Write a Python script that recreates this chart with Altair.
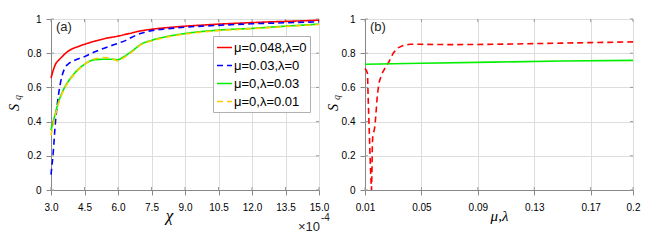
import altair as alt
import pandas as pd

# ---------------- Panel (a) data (chi in units of 1e-4) ----------------
series_names = ["μ=0.048,λ=0", "μ=0.03,λ=0", "μ=0,λ=0.03", "μ=0,λ=0.01"]
series_colors = ["#ff0000", "#0000ff", "#00ee00", "#ffcc00"]
series_dash = [[1, 0], [6, 4], [1, 0], [6, 4]]

red_x = [3.0, 3.1, 3.2, 3.35, 3.5, 3.7, 3.9, 4.2, 4.5, 5.0, 5.5, 6.0, 6.5, 7.0, 7.5, 8.0,
         9.0, 10.0, 10.5, 11.0, 12.0, 13.0, 13.5, 14.0, 15.0]
red_y = [0.655, 0.70, 0.735, 0.76, 0.78, 0.805, 0.822, 0.838, 0.852, 0.872, 0.888, 0.900,
         0.915, 0.930, 0.940, 0.947, 0.958, 0.966, 0.970, 0.973, 0.979, 0.984, 0.986, 0.988, 0.993]

blue_x = [3.0, 3.1, 3.2, 3.3, 3.4, 3.5, 3.65, 3.8, 4.0, 4.5, 5.0, 5.5, 6.0, 6.3, 6.6, 7.0,
          7.5, 8.0, 9.0, 10.5, 12.0, 13.5, 15.0]
blue_y = [0.09, 0.22, 0.40, 0.52, 0.61, 0.67, 0.72, 0.74, 0.755, 0.78, 0.81, 0.835, 0.858,
          0.872, 0.892, 0.915, 0.932, 0.94, 0.952, 0.963, 0.972, 0.978, 0.983]

green_x = [3.0, 3.1, 3.2, 3.3, 3.5, 3.8, 4.1, 4.5, 4.8, 5.0, 5.5, 5.8, 6.0, 6.2, 6.5, 6.8,
           7.0, 7.5, 8.0, 9.0, 10.5, 12.0, 13.5, 15.0]
green_y = [0.35, 0.40, 0.45, 0.50, 0.57, 0.64, 0.69, 0.735, 0.757, 0.762, 0.765, 0.764,
           0.762, 0.775, 0.80, 0.83, 0.85, 0.875, 0.892, 0.915, 0.935, 0.945, 0.958, 0.97]

yellow_x = [3.0, 3.1, 3.2, 3.3, 3.5, 3.8, 4.1, 4.5, 4.8, 5.0, 5.3, 5.6, 5.8, 6.0, 6.2, 6.5,
            6.8, 7.0, 7.5, 8.0, 9.0, 10.5, 12.0, 13.5, 15.0]
yellow_y = [0.32, 0.38, 0.44, 0.49, 0.565, 0.635, 0.685, 0.735, 0.76, 0.768, 0.775, 0.772,
            0.765, 0.755, 0.768, 0.795, 0.826, 0.847, 0.872, 0.889, 0.912, 0.932, 0.943,
            0.956, 0.968]

# ---------------- Panel (b) data ----------------
b_red_x = [0.0100, 0.0110, 0.0118, 0.0122, 0.0128, 0.0134, 0.0138, 0.0143, 0.0146, 0.0149,
           0.0152, 0.0155, 0.0163, 0.0170, 0.0178, 0.0188, 0.0200, 0.0220, 0.0240, 0.0270,
           0.0300, 0.0330, 0.0370, 0.0420, 0.0500, 0.0700, 0.0900, 0.1100, 0.1300, 0.1500,
           0.1700, 0.2000]
b_red_y = [0.71, 0.70, 0.68, 0.55, 0.40, 0.25, 0.15, 0.05, 0.0, 0.10, 0.26, 0.32, 0.34,
           0.37, 0.45, 0.56, 0.63, 0.68, 0.71, 0.75, 0.80, 0.83, 0.845, 0.852, 0.852, 0.850,
           0.851, 0.853, 0.856, 0.859, 0.862, 0.866]
b_green_x = [0.01, 0.05, 0.10, 0.15, 0.20]
b_green_y = [0.735, 0.741, 0.748, 0.754, 0.758]

a_xticks = [3.0, 4.5, 6.0, 7.5, 9.0, 10.5, 12.0, 13.5, 15.0]
b_xticks = [0.01, 0.05, 0.09, 0.13, 0.17, 0.2]
yticks = [0, 0.2, 0.4, 0.6, 0.8, 1.0]

W, H = 268, 171
FRAME = "#999999"
LABEL_FONT = "Liberation Sans"
SERIF = "Liberation Serif"

rows = []
for name, xs, ys in zip(series_names, [red_x, blue_x, green_x, yellow_x],
                        [red_y, blue_y, green_y, yellow_y]):
    for i, (xv, yv) in enumerate(zip(xs, ys)):
        rows.append({"x": xv, "y": yv, "series": name, "i": i})
df_a = pd.DataFrame(rows)


def y_axis(tx, ty):
    return alt.Axis(values=yticks, format="~g", labelPadding=5, labelFlush=False,
                    labelOverlap=False, title="S",
                    titleFont=SERIF, titleFontStyle="italic", titleFontWeight="normal",
                    titleFontSize=14, titleAngle=270, titleAlign="center",
                    titleBaseline="middle", titleX=tx, titleY=ty)


y_a = alt.Y("y:Q", scale=alt.Scale(domain=[0, 1], nice=False, zero=False), axis=y_axis(-37, 88))
x_a = alt.X("x:Q", scale=alt.Scale(domain=[3, 15], nice=False, zero=False),
            axis=alt.Axis(values=a_xticks, format=".1f", labelPadding=7, labelFlush=False,
                          labelOverlap=False, title="χ",
                          titleFont=SERIF, titleFontStyle="italic", titleFontWeight="normal",
                          titleFontSize=17, titleX=118, titleY=30, titleAlign="center",
                          titleBaseline="alphabetic"))

legend = alt.Legend(orient="none", legendX=162, legendY=17, title=None,
                    symbolType="stroke", symbolSize=225, symbolStrokeWidth=1.6,
                    labelFont=LABEL_FONT, labelFontSize=13, labelColor="#000000",
                    strokeColor="#b0b0b0", fillColor="white", padding=3,
                    rowPadding=2, labelOffset=1, labelLimit=200)

color_a = alt.Color("series:N", scale=alt.Scale(domain=series_names, range=series_colors),
                    legend=legend)
dash_a = alt.StrokeDash("series:N", scale=alt.Scale(domain=series_names, range=series_dash),
                        legend=legend)

base_a = alt.Chart(df_a)
line_layers = [
    base_a.transform_filter(alt.datum.series == name)
    .mark_line(strokeWidth=1.6, interpolate="monotone")
    .encode(x=x_a, y=y_a, color=color_a, strokeDash=dash_a, order="i:Q")
    for name in series_names
]

tx_a = pd.DataFrame({"x": a_xticks})
ty = pd.DataFrame({"y": yticks})
tick_bottom_a = alt.Chart(tx_a).mark_rule(color=FRAME).encode(x=x_a, y=alt.value(H), y2=alt.value(H - 3))
tick_top_a = alt.Chart(tx_a).mark_rule(color=FRAME).encode(x=x_a, y=alt.value(0), y2=alt.value(3))
tick_left_a = alt.Chart(ty).mark_rule(color=FRAME).encode(y=y_a, x=alt.value(0), x2=alt.value(3))
tick_right_a = alt.Chart(ty).mark_rule(color=FRAME).encode(y=y_a, x=alt.value(W), x2=alt.value(W - 3))


def text_layer(txt, x, y, size, font=LABEL_FONT, style="normal", angle=0,
               align="left", baseline="middle"):
    return alt.Chart(pd.DataFrame({"t": [txt]})).mark_text(
        font=font, fontSize=size, fontStyle=style, angle=angle, align=align,
        baseline=baseline, color="#262626"
    ).encode(x=alt.value(x), y=alt.value(y), text="t:N")


q_a = text_layer("q", -33.5, 78.5, 10, font=SERIF, style="italic", angle=270, align="center")
lab_a = text_layer("(a)", 5, 8, 13)
exp1 = text_layer("×10", 247, 212, 13, baseline="alphabetic")
exp2 = text_layer("-4", 270, 202, 10, baseline="alphabetic")

panel_a = alt.layer(tick_bottom_a, tick_top_a, tick_left_a, tick_right_a, *line_layers,
                    q_a, lab_a, exp1, exp2).properties(width=W, height=H)

# ---------------- Panel (b) ----------------
df_b_red = pd.DataFrame({"x": b_red_x, "y": b_red_y, "i": list(range(len(b_red_x)))})
df_b_green = pd.DataFrame({"x": b_green_x, "y": b_green_y})

y_b = alt.Y("y:Q", scale=alt.Scale(domain=[0, 1], nice=False, zero=False), axis=y_axis(-32, 88))
x_b = alt.X("x:Q", scale=alt.Scale(domain=[0.01, 0.2], nice=False, zero=False),
            axis=alt.Axis(values=b_xticks, format="~g", labelPadding=7, labelFlush=False,
                          labelOverlap=False, title="μ,λ",
                          titleFont=SERIF, titleFontStyle="italic", titleFontWeight="normal",
                          titleFontSize=15, titleX=134, titleY=30, titleAlign="center",
                          titleBaseline="alphabetic"))

red_b = alt.Chart(df_b_red).mark_line(strokeWidth=1.6, color="#ff0000", strokeDash=[6, 4]).encode(
    x=x_b, y=y_b, order="i:Q")
green_b = alt.Chart(df_b_green).mark_line(strokeWidth=1.6, color="#00ee00").encode(x=x_b, y=y_b)

tx_b = pd.DataFrame({"x": b_xticks})
tick_bottom_b = alt.Chart(tx_b).mark_rule(color=FRAME).encode(x=x_b, y=alt.value(H), y2=alt.value(H - 3))
tick_top_b = alt.Chart(tx_b).mark_rule(color=FRAME).encode(x=x_b, y=alt.value(0), y2=alt.value(3))
tick_left_b = alt.Chart(ty).mark_rule(color=FRAME).encode(y=y_b, x=alt.value(0), x2=alt.value(3))
tick_right_b = alt.Chart(ty).mark_rule(color=FRAME).encode(y=y_b, x=alt.value(W), x2=alt.value(W - 3))

q_b = text_layer("q", -28.5, 78.5, 10, font=SERIF, style="italic", angle=270, align="center")
lab_b = text_layer("(b)", 5, 8, 13)

panel_b = alt.layer(tick_bottom_b, tick_top_b, tick_left_b, tick_right_b, red_b, green_b,
                    q_b, lab_b).properties(width=W, height=H)

chart = alt.hconcat(panel_a, panel_b, spacing=46, bounds="flush").properties(
    padding={"left": -2, "top": 5, "right": 5, "bottom": 0}
).configure_view(stroke=FRAME, strokeWidth=1).configure_axis(
    grid=False, domain=False, ticks=False, tickSize=0,
    labelFont=LABEL_FONT, labelFontSize=14, labelColor="#262626", titleColor="#262626"
).configure(background="white")

chart.save("out.html", embed_options={"renderer": "svg", "actions": False})
